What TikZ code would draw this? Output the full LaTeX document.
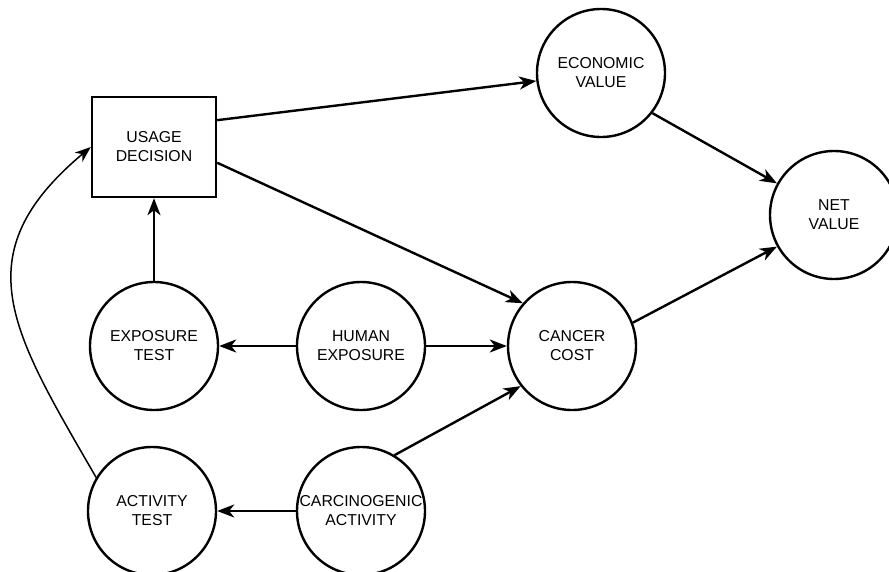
\documentclass[tikz,border=0pt]{standalone}
\usepackage{fontspec}
\setmainfont{Liberation Sans}
\usepackage{tikz}
\usetikzlibrary{positioning, arrows.meta, calc}

\begin{document}
\begin{tikzpicture}[x=1pt, y=1pt,
chance/.style={circle, draw, line width=2.4pt, minimum size=128pt, inner sep=0pt, align=center,
  font=\fontsize{15.8}{19}\selectfont},
decision/.style={rectangle, draw, line width=2.4pt, minimum width=124pt, minimum height=100pt, align=center,
  font=\fontsize{15.8}{19}\selectfont},
link/.style={line width=2.4pt, -{Stealth[length=17pt, width=13pt, inset=5pt]}},
thinlink/.style={line width=1.5pt, -{Stealth[length=16pt, width=12pt, inset=5pt]}}]
    \useasboundingbox (0,0) rectangle (889,-571);
    \clip (0,0) rectangle (889,-571);

    \node[decision] (usage) at (154,-147) {USAGE\\DECISION};
    \node[chance] (econ) at (601,-73) {ECONOMIC\\VALUE};
    \node[chance] (net) at (834,-215) {NET\\VALUE};
    \node[chance] (cost) at (572,-346) {CANCER\\COST};
    \node[chance] (human) at (361,-346) {HUMAN\\EXPOSURE};
    \node[chance] (exptest) at (154,-346) {EXPOSURE\\TEST};
    \node[chance] (acttest) at (152,-511) {ACTIVITY\\TEST};
    \node[chance] (carc) at (361,-511) {CARCINOGENIC\\ACTIVITY};

    \draw[link] (usage.23) -- (econ);
    \draw[link] (usage.-14) -- (cost.139);
    \draw[link] (exptest) -- (usage);
    \draw[link] (human) -- (exptest);
    \draw[link] (human) -- (cost);
    \draw[link] (carc) -- (acttest);
    \draw[link] (carc.59) -- (cost.218);
    \draw[link] (econ.-38) -- (net.151);
    \draw[link] (cost.21) -- (net.209);
    \draw[thinlink] (acttest.149) to[out=120, in=220, looseness=1.3] (usage.west);
\end{tikzpicture}
\end{document}
